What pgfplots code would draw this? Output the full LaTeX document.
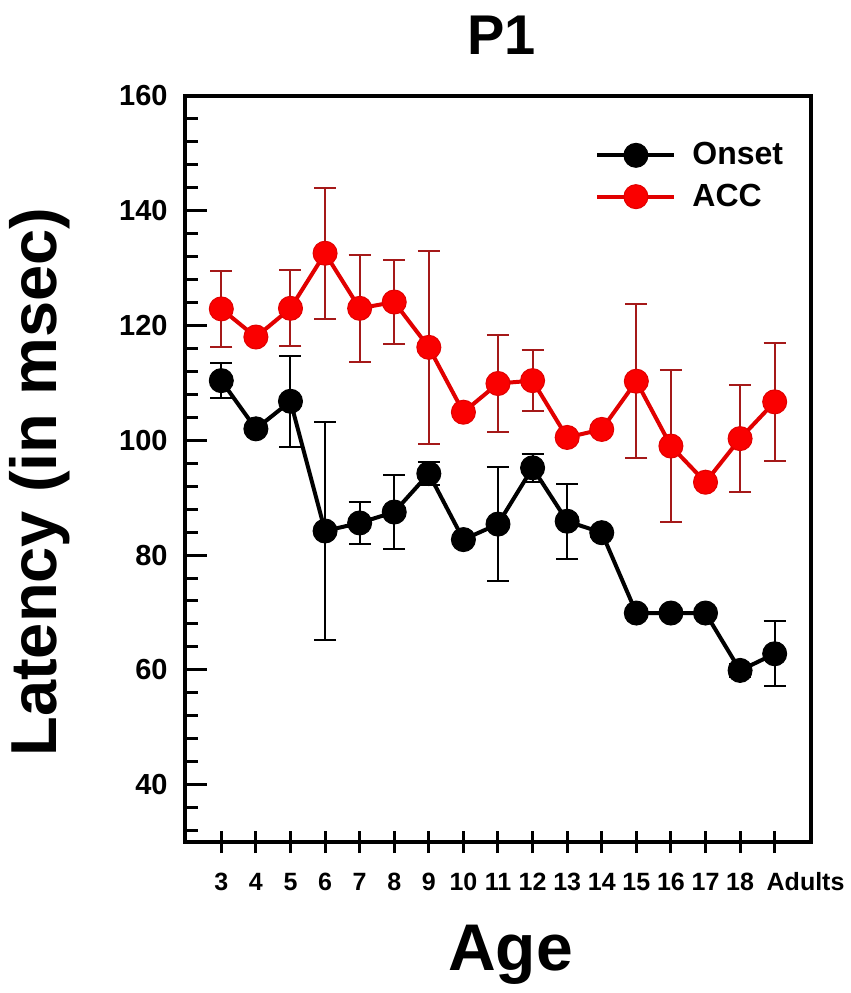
\documentclass[border=0pt]{standalone}
\usepackage{fontspec}
\setmainfont{Liberation Sans}
\usepackage{pgfplots}
\usepackage{pgfplotstable}
\pgfplotsset{compat=1.18}
\definecolor{accline}{RGB}{225,0,0}
\definecolor{accfill}{RGB}{250,0,0}
\definecolor{accerr}{RGB}{165,25,25}

\pgfplotstableread{
x y e
0 110.4 3.0
1 102.0 0
2 106.8 7.9
3 84.2 19.0
4 85.6 3.7
5 87.5 6.5
6 94.2 2.0
7 82.7 0
8 85.4 10.0
9 95.2 2.4
10 85.9 6.5
11 83.9 0
12 69.9 0
13 69.9 0
14 69.9 0
15 59.9 1.2
16 62.8 5.7
}\onset

\pgfplotstableread{
x y e
0 122.9 6.6
1 118.0 0
2 123.0 6.6
3 132.6 11.4
4 123.0 9.3
5 124.1 7.4
6 116.2 16.8
7 104.9 0
8 109.9 8.4
9 110.4 5.3
10 100.5 0
11 101.9 0
12 110.3 13.4
13 99.0 13.3
14 92.7 0
15 100.3 9.3
16 106.7 10.3
}\acc

\begin{document}
\begin{tikzpicture}
\useasboundingbox (0,0) rectangle (425.5pt,496.5pt);
\begin{axis}[
  at={(92.5pt,75.5pt)}, anchor=south west,
  scale only axis, width=313pt, height=373pt,
  xmin=-1.05, xmax=17.05, ymin=30, ymax=160,
  axis line style={line width=2pt},
  xtick={0,...,16},
  xticklabels={3,4,5,6,7,8,9,10,11,12,13,14,15,16,17,18,\makebox[0pt][l]{\kern-4pt Adults}},
  ytick={40,60,...,160},
  minor ytick={32,36,44,48,52,56,64,68,72,76,84,88,92,96,104,108,112,116,124,128,132,136,144,148,152,156},
  xtick pos=bottom, ytick pos=left,
  tick align=inside,
  major tick length=11pt, minor tick length=6.3pt,
  tick style={line width=1.5pt, black},
  every major x tick/.append style={yshift=-5.5pt},
  /pgf/number format/assume math mode=true,
  xticklabel style={font=\bfseries\fontsize{12.5}{14}\selectfont, anchor=base, inner sep=0pt, yshift=-24pt},
  yticklabel style={font=\bfseries\fontsize{14.5}{16}\selectfont, anchor=east, inner sep=0pt, xshift=-8.5pt},
  title={P1},
  title style={font=\bfseries\fontsize{28}{32}\selectfont, at={(axis description cs:0.506,1.04)}, anchor=base, inner sep=0pt},
  xlabel={Age},
  xlabel style={font=\bfseries\fontsize{33}{38}\selectfont, at={(axis description cs:0.52,-0.1716)}, anchor=base, inner sep=0pt},
  ylabel={Latency (in msec)},
  ylabel style={font=\bfseries\fontsize{32.5}{36}\selectfont, at={(axis description cs:-0.2045,0.4826)}, anchor=base, rotate=0, inner sep=0pt},
  legend style={draw=none, fill=none, at={(axis description cs:0.655,0.938)}, anchor=north west,
    font=\bfseries\fontsize{16}{18}\selectfont, inner sep=0pt, row sep=8pt,
    nodes={inner sep=0pt},
    /tikz/every odd column/.append style={column sep=8pt}},
  legend cell align=left,
  legend image code/.code={\draw[mark repeat=2, mark phase=2, #1] plot coordinates {(0pt,0pt) (19.25pt,0pt) (38.5pt,0pt)};},
  clip=false,
]
\addplot[black, line width=2pt, mark=*, mark size=6pt, mark options={fill=black, draw=black, line width=0.5pt},
  error bars/.cd, y dir=both, y explicit,
  error bar style={black, line width=1pt},
  error mark options={rotate=90, mark size=5.5pt, line width=1pt, black}]
  table[x=x, y=y, y error=e] {\onset};
\addlegendentry{Onset}
\addplot[accline, line width=2pt, mark=*, mark size=6pt, mark options={fill=accfill, draw=accline, line width=0.5pt},
  error bars/.cd, y dir=both, y explicit,
  error bar style={accerr, line width=1pt},
  error mark options={rotate=90, mark size=5.5pt, line width=1pt, accerr}]
  table[x=x, y=y, y error=e] {\acc};
\addlegendentry{ACC}
\end{axis}
\end{tikzpicture}
\end{document}
